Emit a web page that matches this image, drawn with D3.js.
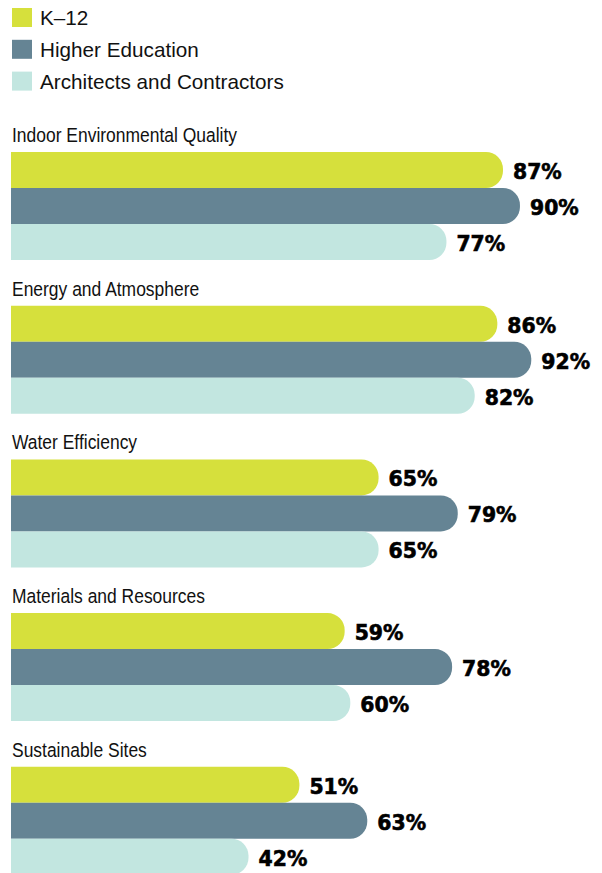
<!DOCTYPE html>
<html>
<head>
<meta charset="utf-8">
<script src="https://cdn.jsdelivr.net/npm/d3@7"></script>
<style>
  body { margin: 0; background: #fff; }
</style>
</head>
<body>
<script>
// data
const categories = ["Indoor Environmental Quality", "Energy and Atmosphere", "Water Efficiency", "Materials and Resources", "Sustainable Sites"];
const seriesNames = ["K\u201312", "Higher Education", "Architects and Contractors"];
const k12 = [87, 86, 65, 59, 51];
const higherEd = [90, 92, 79, 78, 63];
const architects = [77, 82, 65, 60, 42];

const colors = ["#d6e03c", "#658494", "#c2e6e0"];
const seriesValues = [k12, higherEd, architects];

const width = 602, height = 873;
const textFont = "'Liberation Sans', Arial, sans-serif";

const svg = d3.select("body").append("svg")
    .attr("width", width)
    .attr("height", height);

// x scale: 0..100 percent
const x = d3.scaleLinear().domain([0, 100]).range([11, 576.5]);

// group position and bar position inside each group
const groupY = d3.scaleBand().domain(categories).range([152, 152 + 153.7 * categories.length]);
const barY = d3.scaleBand().domain(seriesNames).range([0, 108]);
const h = barY.bandwidth();
const r = 17;

// the original type is a slightly condensed grotesque, so squeeze Liberation Sans a bit
function squeezedText(sel, tx, ty, size, sx, str) {
    sel.append("text")
        .attr("transform", "translate(" + tx + "," + ty + ") scale(" + sx + ",1)")
        .attr("font-family", textFont)
        .attr("font-size", size)
        .attr("fill", "#111")
        .text(str);
}

// legend
const legend = svg.append("g").attr("class", "legend");
seriesNames.forEach(function(name, i) {
    legend.append("rect")
        .attr("x", 12).attr("y", 8 + i * 31.8)
        .attr("width", 20).attr("height", 19)
        .attr("fill", colors[i]);
    squeezedText(legend, 40, 25 + i * 31.8, 20.5, 1.01, name);
});

// bar with a rounded right end
function barPath(x0, x1, y, hh) {
    return "M" + x0 + "," + y +
        "H" + (x1 - r) +
        "A" + r + "," + r + " 0 0 1 " + x1 + "," + (y + r) +
        "V" + (y + hh - r) +
        "A" + r + "," + r + " 0 0 1 " + (x1 - r) + "," + (y + hh) +
        "H" + x0 + "Z";
}

const group = svg.selectAll(".group")
    .data(categories)
    .enter()
    .append("g")
    .attr("class", "group")
    .attr("transform", function(d) { return "translate(0," + groupY(d) + ")"; });

group.each(function(cat, ci) {
    const g = d3.select(this);
    squeezedText(g, 12, -10, 19.5, 0.895, cat);

    const rows = seriesNames.map(function(s, si) {
        return { series: s, value: seriesValues[si][ci], color: colors[si] };
    });

    g.selectAll("path")
        .data(rows)
        .enter()
        .append("path")
        .attr("d", function(d) { return barPath(x(0), x(d.value), barY(d.series), h); })
        .attr("fill", function(d) { return d.color; });

    g.selectAll("text.value")
        .data(rows)
        .enter()
        .append("text")
        .attr("class", "value")
        .attr("x", function(d) { return x(d.value) + 10; })
        .attr("y", function(d) { return barY(d.series) + 27; })
        .attr("font-family", "'DejaVu Sans', sans-serif")
        .attr("font-weight", "bold")
        .attr("font-size", 20.4)
        .attr("fill", "#000")
        .attr("stroke", "#000")
        .attr("stroke-width", 0.6)
        .text(function(d) { return d.value + "%"; });
});
</script>
</body>
</html>
